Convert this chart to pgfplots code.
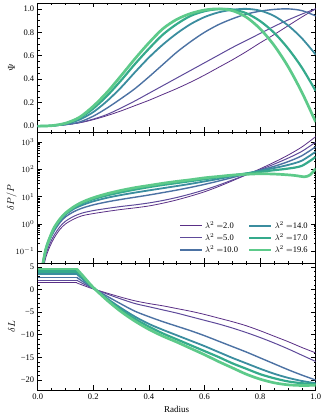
\documentclass[border=0pt]{standalone}
\usepackage{fontspec}
\setmainfont{Liberation Serif}
\usepackage{pgfplots}
\usepackage{pgfplotstable}
\pgfplotsset{compat=1.18}

\definecolor{lamA}{HTML}{5A2F86}
\definecolor{lamB}{HTML}{5E4A9A}
\definecolor{lamC}{HTML}{4C72A3}
\definecolor{lamD}{HTML}{3B8D9F}
\definecolor{lamE}{HTML}{35AA8C}
\definecolor{lamF}{HTML}{5DCA8A}

\tikzset{
  sA/.style={lamA, line width=0.8pt},
  sB/.style={lamB, line width=1.0pt},
  sC/.style={lamC, line width=1.4pt},
  sD/.style={lamD, line width=1.8pt},
  sE/.style={lamE, line width=2.2pt},
  sF/.style={lamF, line width=2.7pt},
}

% Psi(r)
\pgfplotstableread{
r     a     b     c     d     e     f
0     0     0     0     0     0     0
0.05  0.003 0.003 0.003 0.003 0.004 0.004
0.10  0.012 0.012 0.013 0.018 0.022 0.025
0.15  0.028 0.030 0.035 0.055 0.068 0.075
0.20  0.055 0.060 0.085 0.120 0.150 0.170
0.25  0.090 0.100 0.155 0.215 0.260 0.290
0.30  0.130 0.155 0.235 0.330 0.390 0.430
0.35  0.175 0.215 0.320 0.460 0.530 0.575
0.40  0.220 0.280 0.420 0.585 0.660 0.710
0.45  0.270 0.345 0.525 0.695 0.780 0.830
0.50  0.320 0.410 0.630 0.790 0.870 0.910
0.55  0.375 0.475 0.720 0.870 0.940 0.960
0.60  0.435 0.540 0.800 0.930 0.980 0.990
0.65  0.500 0.605 0.865 0.970 0.998 1.000
0.70  0.565 0.670 0.915 0.992 0.995 0.985
0.75  0.635 0.730 0.955 1.000 0.963 0.930
0.80  0.710 0.790 0.980 0.985 0.896 0.830
0.85  0.780 0.850 0.995 0.940 0.797 0.690
0.90  0.855 0.905 1.000 0.860 0.664 0.510
0.95  0.930 0.955 0.985 0.750 0.500 0.290
1.00  1.000 1.000 0.940 0.610 0.300 0.035
}\psitab

% dP/P
\pgfplotstableread{
r      a       b       c       d       e
0.015  0.010   0.0126  0.0158  0.0178  0.0191
0.02   0.0224  0.0282  0.0355  0.0398  0.0417
0.03   0.0631  0.0794  0.112   0.126   0.132
0.045  0.158   0.200   0.282   0.316   0.339
0.06   0.316   0.398   0.562   0.661   0.708
0.08   0.631   0.794   1.12    1.32    1.45
0.10   1.00    1.26    1.82    2.19    2.40
0.13   1.51    1.91    2.82    3.55    3.98
0.16   2.00    2.51    3.80    4.90    5.75
0.20   2.40    3.09    5.01    6.76    8.13
0.25   2.88    3.72    6.46    9.12    11.2
0.30   3.39    4.37    7.94    11.5    14.5
0.35   3.89    5.01    9.55    14.1    18.2
0.40   4.57    5.89    11.5    17.0    22.4
0.45   5.75    7.24    14.1    20.4    26.9
0.50   7.59    9.33    17.4    24.5    31.6
0.55   10.5    12.6    21.9    29.5    37.2
0.60   15.1    17.8    28.2    36.3    43.7
0.65   23.4    26.3    37.2    44.7    51.3
0.70   38.0    40.7    50.1    56.2    60.3
0.75   63.1    63.1    67.6    70.8    70.8
0.80   105     97.7    93.3    89.1    81.3
0.85   182     155     129     112     93.3
0.90   331     257     191     145     107
0.95   661     457     316     209     135
1.00   1585    1000    676     447     288
}\dptab

\pgfplotstableread{
r      f
0.015  0.020
0.02   0.0417
0.03   0.126
0.045  0.347
0.06   0.759
0.08   1.51
0.10   2.51
0.13   4.27
0.16   6.31
0.20   9.12
0.25   12.9
0.30   17.0
0.35   21.4
0.40   25.7
0.45   30.9
0.50   36.3
0.55   41.7
0.60   49.0
0.65   55.0
0.70   61.7
0.75   66.1
0.80   69.2
0.85   67.6
0.90   63.1
0.93   58.9
0.96   53.7
0.98   63.1
1.00   107
}\dpgreen

% dL, from the kink at r=0.14 outwards
\pgfplotstableread{
r     a      b      c      d      e      f
0.14  1.47   2.06   2.70   3.45   4.00   4.56
0.16  1.00   1.40   1.85   2.40   2.80   3.20
0.18  0.55   0.80   1.05   1.35   1.60   1.80
0.20  0.12   0.20   0.25   0.35   0.40   0.45
0.25  -0.80  -1.00  -1.50  -2.00  -2.20  -2.40
0.30  -1.70  -2.10  -3.20  -4.10  -4.50  -4.90
0.35  -2.50  -3.10  -4.80  -6.00  -6.50  -7.00
0.40  -3.10  -3.80  -6.00  -7.60  -8.20  -8.80
0.45  -3.60  -4.50  -7.10  -8.90  -9.70  -10.30
0.50  -4.20  -5.20  -8.10  -10.10 -11.00 -11.60
0.55  -4.80  -6.00  -9.10  -11.30 -12.30 -13.00
0.60  -5.50  -6.80  -10.20 -12.50 -13.60 -14.40
0.65  -6.30  -7.60  -11.40 -13.80 -14.90 -15.90
0.70  -7.10  -8.50  -12.60 -15.10 -16.30 -17.30
0.75  -8.00  -9.50  -13.80 -16.30 -17.50 -18.70
0.80  -9.10  -10.60 -15.10 -17.50 -18.70 -19.80
0.85  -10.30 -11.80 -16.40 -18.60 -19.60 -20.60
0.90  -11.50 -13.10 -17.70 -19.50 -20.30 -21.05
0.95  -12.80 -14.50 -18.90 -20.20 -20.70 -21.20
1.00  -14.00 -15.90 -20.00 -20.70 -20.90 -21.15
}\dltab

\pgfplotsset{
  panel/.style={
    scale only axis, width=278pt,
    xmin=0, xmax=1,
    xtick={0,0.2,0.4,0.6,0.8,1.0}, minor x tick num=3,
    tick align=inside,
    major tick length=4.5pt, minor tick length=2.2pt,
    every tick/.style={black, line width=0.6pt},
    axis line style={line width=0.8pt},
    tick label style={font=\fontsize{8.5}{10}\selectfont},
    label style={font=\fontsize{9}{11}\selectfont},
    every axis y label/.style={at={(axis description cs:-0.094,0.5)}, rotate=90, anchor=center},
    xticklabel style={/pgf/number format/.cd, fixed, fixed zerofill, precision=1, assume math mode=true},
  },
}

\begin{document}
\begin{tikzpicture}

% top: Psi
\begin{axis}[panel, at={(37.7pt,288pt)}, anchor=south west, height=129pt,
  ymin=-0.05, ymax=1.05, ytick={0,0.2,0.4,0.6,0.8,1.0}, minor y tick num=3,
  yticklabel style={/pgf/number format/.cd, fixed, fixed zerofill, precision=1, assume math mode=true},
  xticklabels={}, ylabel={$\Psi$}]
\addplot[sA, smooth] table[x=r, y=a] {\psitab};
\addplot[sB, smooth] table[x=r, y=b] {\psitab};
\addplot[sC, smooth] table[x=r, y=c] {\psitab};
\addplot[sD, smooth] table[x=r, y=d] {\psitab};
\addplot[sE, smooth] table[x=r, y=e] {\psitab};
\addplot[sF, smooth] table[x=r, y=f] {\psitab};
\end{axis}

% middle: dP/P
\begin{axis}[panel, at={(37.7pt,157pt)}, anchor=south west, height=131pt,
  ymode=log, ymin=0.037, ymax=2350, ytick={0.1,1,10,100,1000},
  xticklabels={}, ylabel={$\delta P/P$},
  legend columns=2, legend cell align=left,
  legend image code/.code={\draw[#1] (0pt,0pt) -- (22pt,0pt);},
  legend style={at={(0.99,0.035)}, anchor=south east, draw=none, fill=none,
    font=\fontsize{8.5}{10}\selectfont, row sep=0pt,
    /tikz/every even column/.append style={column sep=8pt}}]
\addplot[sA, smooth, forget plot] table[x=r, y=a] {\dptab};
\addplot[sB, smooth, forget plot] table[x=r, y=b] {\dptab};
\addplot[sC, smooth, forget plot] table[x=r, y=c] {\dptab};
\addplot[sD, smooth, forget plot] table[x=r, y=d] {\dptab};
\addplot[sE, smooth, forget plot] table[x=r, y=e] {\dptab};
\addplot[sF, smooth, forget plot] table[x=r, y=f] {\dpgreen};
\addlegendimage{sA}\addlegendentry{$\lambda^2=$2.0}
\addlegendimage{sD}\addlegendentry{$\lambda^2=$14.0}
\addlegendimage{sB}\addlegendentry{$\lambda^2=$5.0}
\addlegendimage{sE}\addlegendentry{$\lambda^2=$17.0}
\addlegendimage{sC}\addlegendentry{$\lambda^2=$10.0}
\addlegendimage{sF}\addlegendentry{$\lambda^2=$19.6}
\end{axis}

% bottom: dL
\begin{axis}[panel, at={(37.7pt,30pt)}, anchor=south west, height=127pt,
  ymin=-22.2, ymax=5.86, ytick={-20,-15,-10,-5,0,5},
  yticklabels={−20,−15,−10,−5,0,5}, minor y tick num=4,
  xlabel={Radius}, ylabel={$\delta L$}]
\addplot[sA] coordinates {(0,1.47) (0.14,1.47)};
\addplot[sB] coordinates {(0,2.06) (0.14,2.06)};
\addplot[sC] coordinates {(0,2.70) (0.14,2.70)};
\addplot[sD] coordinates {(0,3.45) (0.14,3.45)};
\addplot[sE] coordinates {(0,4.00) (0.14,4.00)};
\addplot[sF] coordinates {(0,4.56) (0.14,4.56)};
\addplot[sA, smooth] table[x=r, y=a] {\dltab};
\addplot[sB, smooth] table[x=r, y=b] {\dltab};
\addplot[sC, smooth] table[x=r, y=c] {\dltab};
\addplot[sD, smooth] table[x=r, y=d] {\dltab};
\addplot[sE, smooth] table[x=r, y=e] {\dltab};
\addplot[sF, smooth] table[x=r, y=f] {\dltab};
\end{axis}

\pgfresetboundingbox
\path[use as bounding box] (0,0) rectangle (327pt,420pt);
\end{tikzpicture}
\end{document}
